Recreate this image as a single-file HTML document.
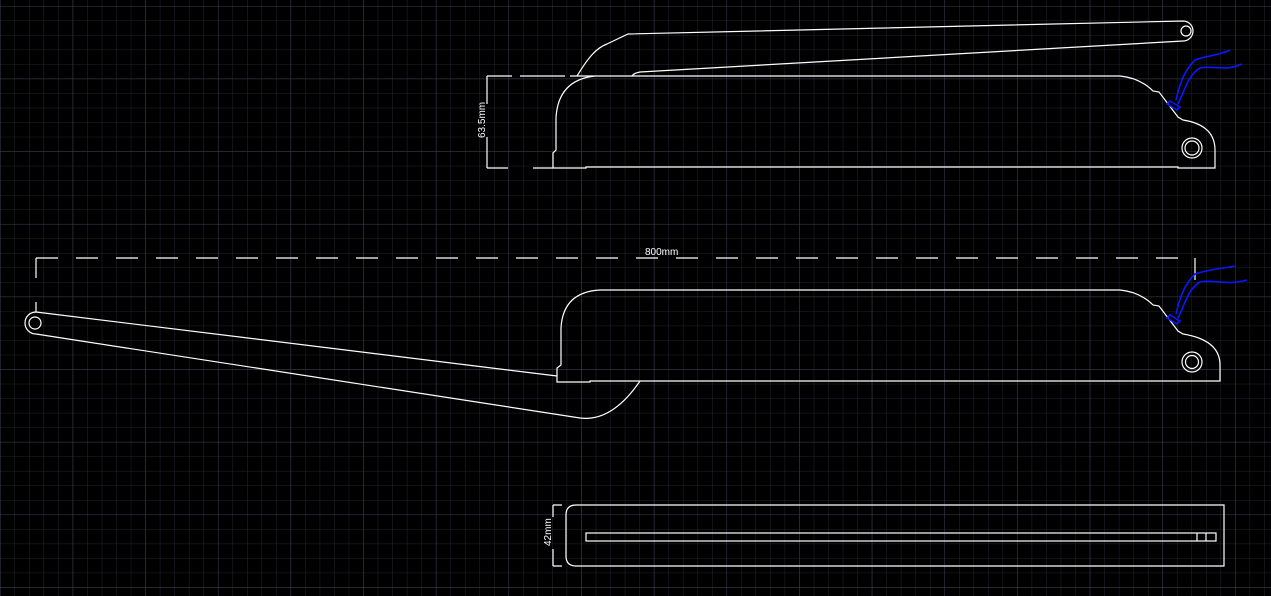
<!DOCTYPE html>
<html><head><meta charset="utf-8"><style>
html,body{margin:0;padding:0;background:#000;}
svg{display:block}
text{font-family:"Liberation Sans",sans-serif;fill:#fff;font-size:10px}
</style></head><body>
<svg width="1271" height="596" viewBox="0 0 1271 596" xmlns="http://www.w3.org/2000/svg">
<defs>
<pattern id="minor" width="14.53" height="14.53" patternUnits="userSpaceOnUse" x="0" y="6">
<path d="M0 0H14.53M0 0V14.53" stroke="#23262f" stroke-width="1" fill="none"/>
</pattern>
<pattern id="major" width="72.65" height="72.65" patternUnits="userSpaceOnUse" x="0" y="6">
<path d="M0 0H72.65M0 0V72.65" stroke="#3a3d4f" stroke-width="1" fill="none"/>
</pattern>
</defs>
<rect width="1271" height="596" fill="#000"/>
<rect width="1271" height="596" fill="url(#minor)"/>
<rect width="1271" height="596" fill="url(#major)"/>
<g fill="none" stroke="#fff" stroke-width="1.2">
<!-- TOP VIEW -->
<path d="M577 76 C588 58 596 48 607 44 L628 34 L1183 21 A10 10 0 0 1 1183 41 L640 72 Q634 73 632 76"/>
<circle cx="1186" cy="31" r="5"/>
<path d="M487 76 H512 M520 76 H565 M570 76 H1120 Q1140 78 1153 91 L1159 92 L1178 117 L1183 120 Q1215 125 1215 150 V168 H1178 V167 H586 V168 H553 V153 L556 150 V118 Q558 80 595 76"/>
<circle cx="1192" cy="148" r="10"/>
<circle cx="1192" cy="148" r="7"/>
<path d="M487 76 V104 M487 137 V168 M487 168 H508 M533 168 H553"/>
<!-- MIDDLE VIEW -->
<path d="M1120 290 Q1140 292 1153 305 L1159 306 L1178 331 L1183 334 Q1220 340 1220 365 V381 H590 V382 H557 V368 L561 365 V328 Q563 292 600 290 Z"/>
<circle cx="1192" cy="362" r="10"/>
<circle cx="1192" cy="362" r="6.5"/>
<path d="M36 312 L557 376 M36 334 L580 418 Q612 422 640 381 M36 312 A11 11 0 0 0 36 334"/>
<circle cx="35" cy="323" r="6"/>
<path d="M36 258 H1195" stroke-dasharray="22 18"/>
<path d="M36 258 V278 M36 302 V312 M1195 258 V280"/>
<!-- BOTTOM VIEW -->
<path d="M576 505 H1224 V566 H576 Q566 566 566 556 V515 Q566 505 576 505 Z"/>
<rect x="586" y="533" width="630" height="8"/>
<path d="M1197 533 V541 M1206 533 V541"/>
<path d="M553 505 V517 M553 549 V566 M553 505 H562 M553 566 H562"/>
</g>
<g fill="none" stroke="#0a18ff" stroke-width="1.6">
<path d="M1176 100 C1180 82 1185 70 1195 60 C1210 55 1220 55 1230 50"/>
<path d="M1178 104 C1185 90 1188 75 1200 68 C1215 65 1225 72 1242 64"/>
<path d="M1170 101 L1180 107 L1177 110 L1167 104 Z"/>
<path d="M1176 314 C1180 296 1185 284 1195 274 C1210 269 1220 269 1235 266"/>
<path d="M1178 318 C1185 304 1188 289 1200 282 C1215 279 1225 286 1247 280"/>
<path d="M1170 315 L1180 321 L1177 324 L1167 318 Z"/>
</g>
<text x="645" y="255">800mm</text>
<text transform="translate(485,138) rotate(-90)">63.5mm</text>
<text transform="translate(551,546) rotate(-90)">42mm</text>
</svg>
</body></html>
